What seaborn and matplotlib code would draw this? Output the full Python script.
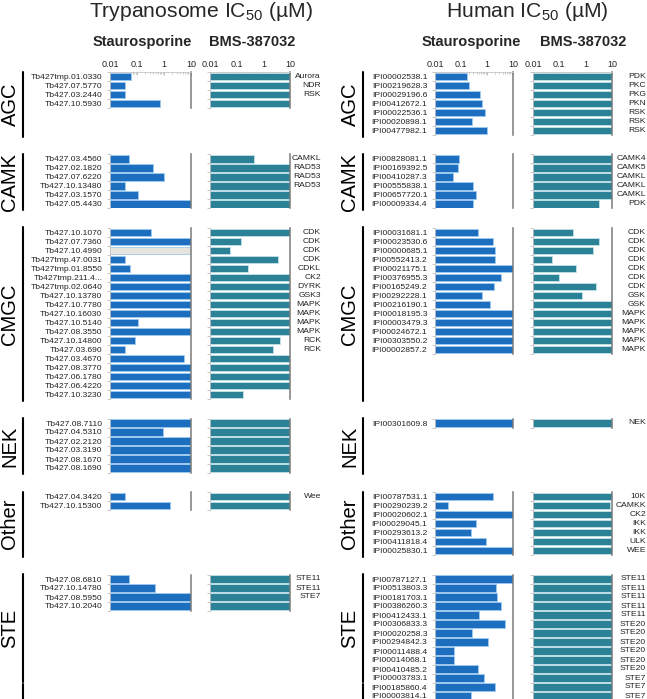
import numpy as np
import seaborn as sns
import matplotlib.pyplot as plt
from matplotlib.lines import Line2D
from matplotlib.ticker import FixedLocator, NullLocator

# =========================
# データ (IC50, µM)  nan = 未測定
# =========================

sections = ['AGC', 'CAMK', 'CMGC', 'NEK', 'Other', 'STE']

# --- Trypanosome ---
tb_agc_ids = ['Tb427tmp.01.0330', 'Tb427.07.5770', 'Tb427.03.2440', 'Tb427.10.5930']
tb_agc_stau = [0.058, 0.036, 0.036, 0.71]
tb_agc_bms = [10, 10, 10, 10]
tb_agc_fam = ['Aurora', 'NDR', 'RSK', '']

tb_camk_ids = ['Tb427.03.4560', 'Tb427.02.1820', 'Tb427.07.6220', 'Tb427.10.13480',
               'Tb427.03.1570', 'Tb427.05.4430']
tb_camk_stau = [0.05, 0.39, 1.0, 0.036, 0.11, 10]
tb_camk_bms = [0.45, 10, 10, 10, 10, 10]
tb_camk_fam = ['CAMKL', 'RAD53', 'RAD53', 'RAD53', '', '']

tb_cmgc_ids = ['Tb427.10.1070', 'Tb427.07.7360', 'Tb427.10.4990', 'Tb427tmp.47.0031',
               'Tb427tmp.01.8550', 'Tb427tmp.211.4...', 'Tb427tmp.02.0640', 'Tb427.10.13780',
               'Tb427.10.7780', 'Tb427.10.16030', 'Tb427.10.5140', 'Tb427.08.3550',
               'Tb427.10.14800', 'Tb427.03.690', 'Tb427.03.4670', 'Tb427.08.3770',
               'Tb427.06.1780', 'Tb427.06.4220', 'Tb427.10.3230']
tb_cmgc_stau = [0.32, 10, np.nan, 0.036, 0.057, 10, 10, 10, 10, 10, 0.11, 10, 0.087,
                0.036, 5.6, 10, 10, 10, 10]
tb_cmgc_bms = [10, 0.145, 0.056, 3.4, 0.27, 10, 10, 10, 10, 10, 10, 10, 4.2, 2.4,
               10, 10, 10, 10, 0.18]
tb_cmgc_fam = ['CDK', 'CDK', 'CDK', 'CDK', 'CDKL', 'CK2', 'DYRK', 'GSK3', 'MAPK', 'MAPK',
               'MAPK', 'MAPK', 'RCK', 'RCK', '', '', '', '', '']

tb_nek_ids = ['Tb427.08.7110', 'Tb427.04.5310', 'Tb427.02.2120', 'Tb427.03.3190',
              'Tb427.08.1670', 'Tb427.08.1690']
tb_nek_stau = [10, 0.92, 10, 10, 10, 10]
tb_nek_bms = [10, 10, 10, 10, 10, 10]
tb_nek_fam = ['', '', '', '', '', '']

tb_other_ids = ['Tb427.04.3420', 'Tb427.10.15300']
tb_other_stau = [0.036, 1.7]
tb_other_bms = [10, 10]
tb_other_fam = ['Wee', '']

tb_ste_ids = ['Tb427.08.6810', 'Tb427.10.14780', 'Tb427.08.5950', 'Tb427.10.2040']
tb_ste_stau = [0.052, 0.46, 10, 10]
tb_ste_bms = [10, 10, 10, 10]
tb_ste_fam = ['STE11', 'STE11', 'STE7', '']

# --- Human ---
hs_agc_ids = ['IPI00002538.1', 'IPI00219628.3', 'IPI00029196.6', 'IPI00412672.1',
              'IPI00022536.1', 'IPI00020898.1', 'IPI00477982.1']
hs_agc_stau = [0.166, 0.196, 0.54, 0.64, 0.81, 0.27, 0.97]
hs_agc_bms = [10, 10, 10, 10, 10, 10, 10]
hs_agc_fam = ['PDK', 'PKC', 'PKG', 'PKN', 'RSK', 'RSK', 'RSK']

hs_camk_ids = ['IPI00828081.1', 'IPI00169392.5', 'IPI00410287.3', 'IPI00555838.1',
               'IPI00657720.1', 'IPI00009334.4']
hs_camk_stau = [0.086, 0.074, 0.051, 0.28, 0.37, 0.28]
hs_camk_bms = [10, 10, 10, 10, 10, 3.2]
hs_camk_fam = ['CAMK4', 'CAMK5', 'CAMKL', 'CAMKL', 'CAMKL', 'PDK']

hs_cmgc_ids = ['IPI00031681.1', 'IPI00023530.6', 'IPI00000685.1', 'IPI00552413.2',
               'IPI00021175.1', 'IPI00376955.3', 'IPI00165249.2', 'IPI00292228.1',
               'IPI00216190.1', 'IPI00018195.3', 'IPI00003479.3', 'IPI00024672.1',
               'IPI00303550.2', 'IPI00002857.2']
hs_cmgc_stau = [0.44, 1.7, 2.1, 2.1, 10, 3.4, 1.8, 0.66, 1.3, 10, 10, 10, 10, 10]
hs_cmgc_bms = [0.34, 3.3, 1.9, 0.054, 0.42, 0.098, 2.5, 0.73, 10, 10, 10, 10, 10, 10]
hs_cmgc_fam = ['CDK', 'CDK', 'CDK', 'CDK', 'CDK', 'CDK', 'CDK', 'GSK', 'GSK',
               'MAPK', 'MAPK', 'MAPK', 'MAPK', 'MAPK']

hs_nek_ids = ['IPI00301609.8']
hs_nek_stau = [10]
hs_nek_bms = [10]
hs_nek_fam = ['NEK']

hs_other_ids = ['IPI00787531.1', 'IPI00290239.2', 'IPI00020602.1', 'IPI00029045.1',
                'IPI00293613.2', 'IPI00411818.4', 'IPI00025830.1']
hs_other_stau = [1.66, 0.032, 10, 0.39, 0.24, 0.89, 10]
hs_other_bms = [10, 8.3, 10, 10, 10, 10, 10]
hs_other_fam = ['10K', 'CAMKK', 'CK2', 'IKK', 'IKK', 'ULK', 'WEE']

hs_ste_ids = ['IPI00787127.1', 'IPI00513803.3', 'IPI00181703.1', 'IPI00386260.3',
              'IPI00412433.1', 'IPI00306833.3', 'IPI00020258.3', 'IPI00294842.3',
              'IPI00011488.4', 'IPI00014068.1', 'IPI00410485.2', 'IPI00003783.1',
              'IPI00185860.4', 'IPI00003814.1']
hs_ste_stau = [10, 2.2, 2.5, 3.5, 0.48, 4.9, 0.27, 1.1, 0.052, 0.052, 0.44, 0.79, 2.1, 0.24]
hs_ste_bms = [10, 10, 10, 10, 10, 10, 10, 10, 10, 10, 10, 10, 10, 10]
hs_ste_fam = ['STE11', 'STE11', 'STE11', 'STE11', 'STE11', 'STE20', 'STE20', 'STE20',
              'STE20', 'STE20', 'STE20', 'STE7', 'STE7', 'STE7']

tryp = {
    'AGC': (tb_agc_ids, tb_agc_stau, tb_agc_bms, tb_agc_fam),
    'CAMK': (tb_camk_ids, tb_camk_stau, tb_camk_bms, tb_camk_fam),
    'CMGC': (tb_cmgc_ids, tb_cmgc_stau, tb_cmgc_bms, tb_cmgc_fam),
    'NEK': (tb_nek_ids, tb_nek_stau, tb_nek_bms, tb_nek_fam),
    'Other': (tb_other_ids, tb_other_stau, tb_other_bms, tb_other_fam),
    'STE': (tb_ste_ids, tb_ste_stau, tb_ste_bms, tb_ste_fam),
}
human = {
    'AGC': (hs_agc_ids, hs_agc_stau, hs_agc_bms, hs_agc_fam),
    'CAMK': (hs_camk_ids, hs_camk_stau, hs_camk_bms, hs_camk_fam),
    'CMGC': (hs_cmgc_ids, hs_cmgc_stau, hs_cmgc_bms, hs_cmgc_fam),
    'NEK': (hs_nek_ids, hs_nek_stau, hs_nek_bms, hs_nek_fam),
    'Other': (hs_other_ids, hs_other_stau, hs_other_bms, hs_other_fam),
    'STE': (hs_ste_ids, hs_ste_stau, hs_ste_bms, hs_ste_fam),
}

# =========================
# スタイル
# =========================

sns.set_theme(style='white')
plt.rcParams['font.family'] = ['Liberation Sans', 'DejaVu Sans']
plt.rcParams['mathtext.fontset'] = 'custom'
plt.rcParams['mathtext.rm'] = 'Liberation Sans'
plt.rcParams['mathtext.it'] = 'Liberation Sans:italic'
plt.rcParams['mathtext.bf'] = 'Liberation Sans:bold'

W, H = 647, 699
fig = plt.figure(figsize=(W / 100, H / 100), dpi=100)


def fx(x):
    return x / W


def fy(y):
    return 1 - y / H


STAU_COL = '#1e6ebf'
BMS_COL = '#2b8296'
NA_COL = '#e6e4dc'
PITCH = 9.0
GAP = 19.5
TOP0 = 76.5

nrows = [max(len(tryp[s][0]), len(human[s][0])) for s in sections]
starts = []
y = TOP0
for n in nrows:
    starts.append(y)
    y += n * PITCH + GAP


def draw_bars(x0, x1, y0, ids, vals, color, edge, first, show_ids, fam=None, fam_x=None):
    n = len(ids)
    ytop = y0 - PITCH / 2
    ax = fig.add_axes([fx(x0), fy(ytop + n * PITCH), (x1 - x0) / W, n * PITCH / H])
    vals = np.asarray(vals, dtype=float)
    plot_vals = np.where(np.isnan(vals), 10.0, vals)
    cols = [NA_COL if np.isnan(v) else color for v in vals]
    sns.barplot(x=plot_vals, y=ids, hue=ids, palette=cols, legend=False, orient='h',
                width=0.78, saturation=1, edgecolor=edge, linewidth=0.6, ax=ax)
    ax.set_xscale('log')
    ax.set_xlim(0.01, 10)
    ax.set_ylim(n - 0.5, -0.5)
    ax.set_xlabel('')
    ax.set_ylabel('')

    ax.spines['bottom'].set_visible(False)
    ax.spines['left'].set_color('#c4c4c4')
    ax.spines['left'].set_linewidth(0.6)
    ax.spines['right'].set_color('#7a7a7a')
    ax.spines['right'].set_linewidth(1.1)
    ax.spines['top'].set_visible(first)
    ax.spines['top'].set_color('#c4c4c4')
    ax.spines['top'].set_linewidth(0.6)

    ax.tick_params(axis='y', which='major', length=0, pad=5.5, labelsize=6.1,
                   labelcolor='#222222', labelleft=show_ids)
    ax.yaxis.set_minor_locator(FixedLocator(np.arange(n + 1) - 0.5))
    ax.tick_params(axis='y', which='minor', left=True, length=2, width=0.5,
                   color='#b0b0b0', direction='out')

    if first:
        ax.xaxis.tick_top()
        ax.set_xticks([0.01, 0.1, 1, 10])
        ax.set_xticklabels(['0.01', '0.1', '1', '10'])
        ax.tick_params(axis='x', which='major', top=True, bottom=False, length=2.5,
                       width=0.5, color='#a0a0a0', direction='in', labelsize=6.5, pad=2)
        ax.tick_params(axis='x', which='minor', top=True, bottom=False, length=1.5,
                       width=0.4, color='#a0a0a0', direction='in')
    else:
        ax.xaxis.set_major_locator(NullLocator())
        ax.xaxis.set_minor_locator(NullLocator())

    if fam is not None:
        fx_ax = (fam_x - x0) / (x1 - x0)
        for i, f in enumerate(fam):
            ax.text(fx_ax, i, f, transform=ax.get_yaxis_transform(), ha='right',
                    va='center', fontsize=6.1, color='#222222')
    return ax


panels = [
    (tryp, dict(stau=(110, 191), bms=(210, 290), fam_x=321, lab_x=10, brk_x=23)),
    (human, dict(stau=(435, 513), bms=(533, 612), fam_x=646, lab_x=350, brk_x=363)),
]

for data, lay in panels:
    for k, sec in enumerate(sections):
        ids, stau, bms, fam = data[sec]
        y0 = starts[k]
        draw_bars(*lay['stau'], y0, ids, stau, STAU_COL, '#9fcbef', k == 0, True)
        draw_bars(*lay['bms'], y0, ids, bms, BMS_COL, '#c5e2ea', k == 0, False,
                  fam=fam, fam_x=lay['fam_x'])

        # セクション名と縦線
        top = y0 - 5
        bot = y0 + (nrows[k] - 1) * PITCH + 6
        if sec == 'STE':
            brk = y0 + 11.5 * PITCH
            segs = [(top, brk - 1), (brk + 1, H + 5)]
            mid = (top + brk) / 2
        else:
            segs = [(top, bot)]
            mid = (top + bot) / 2
        for a, b in segs:
            fig.add_artist(Line2D([fx(lay['brk_x'])] * 2, [fy(a), fy(b)], color='black', lw=1.5))
        fig.text(fx(lay['lab_x']), fy(mid), sec, rotation=90, ha='center', va='center',
                 fontsize=14.5, color='black')

# =========================
# タイトル
# =========================

fig.text(fx(201), fy(17), 'Trypanosome IC$_{50}$ (µM)', fontsize=15.2, ha='center', va='baseline')
fig.text(fx(527), fy(17), 'Human IC$_{50}$ (µM)', fontsize=15.2, ha='center', va='baseline')
for cx in (142.5, 471.5):
    fig.text(fx(cx), fy(42), 'Staurosporine', fontsize=10.5, weight='bold', ha='center', va='center')
for cx in (252.5, 583):
    fig.text(fx(cx), fy(42), 'BMS-387032', fontsize=10.5, weight='bold', ha='center', va='center')

fig.savefig('out.png', dpi=100)
